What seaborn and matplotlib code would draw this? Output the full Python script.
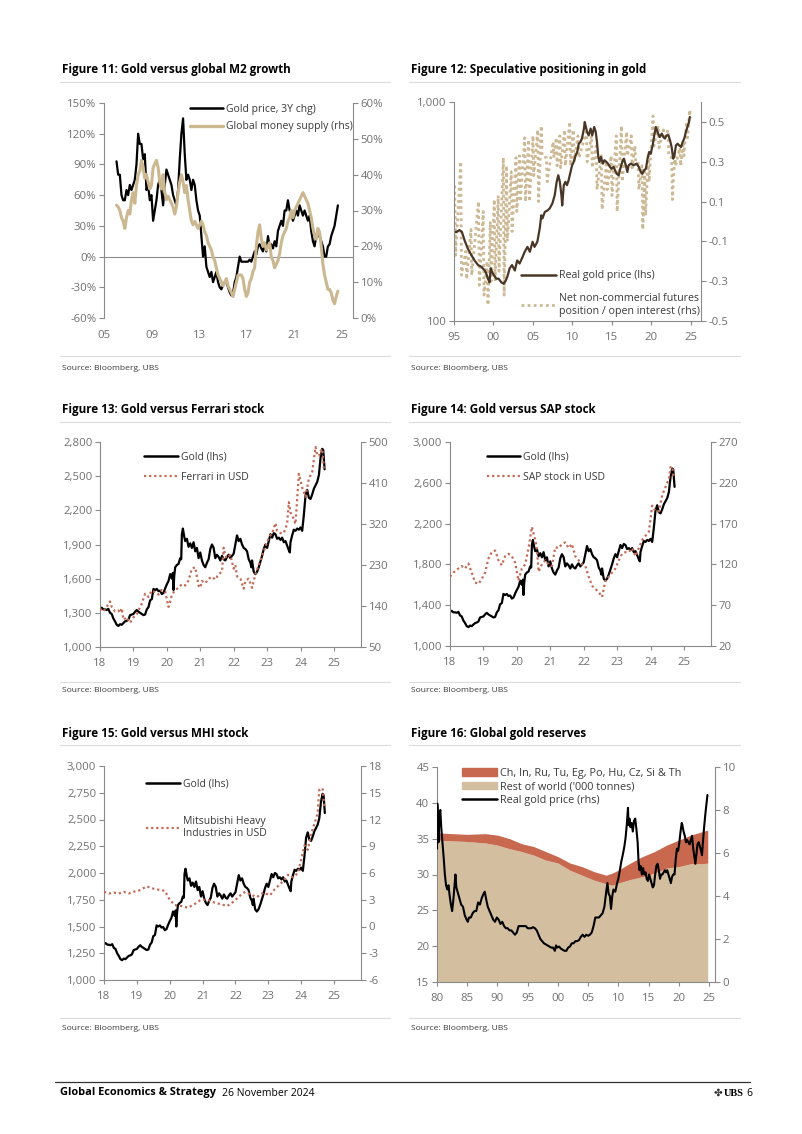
import numpy as np
import matplotlib
matplotlib.use("Agg")
import matplotlib.pyplot as plt
from matplotlib.lines import Line2D
from matplotlib.patches import Patch
import seaborn as sns

# ============================================================
# Data
# ============================================================

# --- Figure 11: gold 3Y change vs global money supply (same monthly-ish grid)
gold_3y_chg = [93, 80, 80, 60, 55, 55, 65, 60, 70, 65, 70, 75, 90, 120, 110, 110, 95, 100, 65, 70,
               55, 60, 35, 45, 55, 70, 75, 65, 50, 70, 85, 80, 75, 70, 60, 55, 50, 65, 95, 120,
               135, 100, 75, 80, 75, 65, 75, 70, 55, 45, 40, 20, 0, 10, -10, -15, -20, -15, -25, -20,
               -15, -25, -30, -32, -28, -25, -25, -30, -35, -38, -36, -25, -20, -10, 0, -5, -5, -5, -5, -5,
               -3, -5, 0, 5, 2, 10, 12, 8, 5, 12, 5, 20, 10, 12, 8, 15, 10, 25, 30, 35,
               30, 45, 45, 55, 45, 45, 35, 40, 45, 40, 50, 45, 40, 45, 40, 35, 40, 25, 15, 10,
               20, 20, 20, 15, 10, 0, 0, 10, 12, 20, 25, 30, 40, 50]
money_supply = [31.5, 31, 30, 28, 27, 25, 28, 30, 29, 33, 35, 32, 37, 40, 41, 44, 42, 39, 40, 38,
                36, 37, 42, 43, 44, 42, 38, 36, 40, 35, 33, 34, 33, 32, 31, 29, 31, 35, 38, 40,
                38, 35, 37, 33, 30, 27, 26, 27, 26, 25, 26, 27, 26, 24, 23, 21, 20, 19, 17, 16,
                14, 12, 11, 10, 9, 10, 11, 9, 8, 7, 6, 8, 10, 12, 12, 12, 11, 8, 6, 7,
                10, 11, 13, 14, 20, 24, 26, 22, 20, 21, 19, 20, 21, 17, 16, 14, 15, 16, 18, 21,
                23, 24, 25, 27, 28, 30, 28, 30, 31, 32, 33, 34, 35, 34, 33, 32, 30, 28, 25, 23,
                22, 25, 24, 20, 15, 12, 10, 8, 8, 7, 5, 4, 6, 7.5]
m2_dates = np.linspace(2006.05, 2024.65, len(gold_3y_chg))

# --- Figure 12: real gold price (log) and net speculative positioning
real_gold_years = [1995.0, 1995.3, 1995.7, 1996.0, 1996.35, 1996.75, 1997.2, 1997.6, 1998.05, 1998.45,
                   1998.9, 1999.1, 1999.3, 1999.5, 1999.65, 1999.8, 2000.05, 2000.35, 2000.65, 2001.0,
                   2001.3, 2001.55, 2001.75, 2002.05, 2002.35, 2002.7, 2003.0, 2003.3, 2003.6, 2003.95,
                   2004.3, 2004.6, 2004.95, 2005.2, 2005.55, 2005.85, 2006.05, 2006.2, 2006.5, 2006.85,
                   2007.1, 2007.45, 2007.75, 2008.0, 2008.2, 2008.4, 2008.6, 2008.7, 2008.9, 2009.1,
                   2009.3, 2009.5, 2009.75, 2009.95, 2010.15, 2010.4, 2010.6, 2010.8, 2011.0, 2011.2,
                   2011.45, 2011.55, 2011.7, 2011.85, 2012.05, 2012.3, 2012.5, 2012.75, 2012.95, 2013.1,
                   2013.25, 2013.4, 2013.6, 2013.85, 2014.05, 2014.3, 2014.5, 2014.75, 2014.95, 2015.2,
                   2015.4, 2015.6, 2015.85, 2016.05, 2016.3, 2016.5, 2016.75, 2016.95, 2017.1, 2017.4,
                   2017.75, 2018.1, 2018.4, 2018.65, 2018.85, 2019.05, 2019.3, 2019.5, 2019.7, 2019.9,
                   2020.15, 2020.35, 2020.55, 2020.7, 2020.85, 2021.05, 2021.3, 2021.5, 2021.7, 2021.9,
                   2022.15, 2022.35, 2022.55, 2022.75, 2022.9, 2023.1, 2023.3, 2023.5, 2023.75, 2023.95,
                   2024.15, 2024.35, 2024.55, 2024.75, 2024.85]
real_gold_price = [255, 255, 260, 255, 233, 214, 200, 189, 180, 177,
                   170, 164, 156, 150, 174, 168, 162, 156, 156, 150,
                   148, 153, 159, 174, 180, 170, 189, 183, 193, 207,
                   218, 207, 230, 218, 230, 264, 304, 294, 315, 320,
                   326, 344, 375, 432, 463, 432, 375, 337, 417, 432,
                   417, 438, 479, 514, 532, 570, 591, 645, 657, 681,
                   756, 810, 769, 729, 704, 756, 704, 769, 729, 657,
                   570, 532, 561, 523, 542, 532, 523, 505, 496, 505,
                   487, 470, 463, 496, 532, 551, 514, 479, 514, 523,
                   514, 523, 505, 479, 470, 487, 496, 551, 591, 580,
                   634, 704, 769, 742, 717, 692, 717, 692, 681, 704,
                   704, 668, 623, 551, 570, 634, 645, 634, 623, 657,
                   681, 729, 769, 810, 854]
net_pos_years = [1995.08, 1995.2, 1995.85, 1995.95, 1996.5, 1996.6, 1997.15, 1997.25, 1998.1, 1998.2,
                 1998.7, 1998.8, 1999.2, 1999.3, 1999.6, 1999.7, 2000.1, 2000.2, 2000.6, 2000.7,
                 2001.25, 2001.35, 2001.65, 2001.75, 2002.25, 2002.35, 2002.85, 2002.95, 2003.3, 2003.4,
                 2003.95, 2004.05, 2004.45, 2004.55, 2005.0, 2005.1, 2005.6, 2005.7, 2006.05, 2006.15,
                 2006.7, 2006.8, 2007.55, 2007.65, 2007.95, 2008.05, 2008.4, 2008.5, 2009.0, 2009.1,
                 2009.65, 2009.75, 2010.1, 2010.2, 2010.7, 2010.8, 2011.75, 2011.85, 2012.4, 2012.5,
                 2013.0, 2013.1, 2013.65, 2013.75, 2014.3, 2014.4, 2014.9, 2015.0, 2015.55, 2015.65,
                 2016.2, 2016.3, 2016.85, 2016.95, 2017.45, 2017.55, 2017.9, 2018.0, 2018.3, 2018.4,
                 2018.8, 2018.9, 2019.15, 2019.25, 2019.6, 2019.7, 2020.2, 2020.3, 2020.85, 2020.95,
                 2021.5, 2021.6, 2022.1, 2022.2, 2022.55, 2022.65, 2022.95, 2023.05, 2023.6, 2023.7,
                 2024.0, 2024.1, 2024.45, 2024.55, 2024.85, 2024.95]
net_pos = [0.18, -0.17, 0.30, -0.27, -0.15, -0.29, -0.04, -0.27, 0.10, -0.32,
           0.05, -0.37, -0.20, -0.42, 0.00, -0.30, 0.11, -0.30, 0.13, -0.25,
           0.32, -0.37, 0.28, -0.10, 0.25, -0.05, 0.32, 0.05, 0.33, 0.10,
           0.42, 0.10, 0.41, 0.10, 0.43, 0.23, 0.46, 0.10, 0.48, 0.33,
           0.32, 0.20, 0.40, 0.32, 0.42, 0.28, 0.43, 0.27, 0.46, 0.28,
           0.50, 0.28, 0.46, 0.30, 0.43, 0.32, 0.45, 0.30, 0.43, 0.27,
           0.38, 0.16, 0.33, 0.06, 0.30, 0.16, 0.33, 0.13, 0.43, 0.05,
           0.48, 0.20, 0.45, 0.33, 0.43, 0.27, 0.38, 0.30, 0.30, 0.16,
           0.28, -0.04, 0.25, 0.03, 0.33, 0.20, 0.53, 0.38, 0.48, 0.37,
           0.46, 0.41, 0.46, 0.33, 0.32, 0.11, 0.33, 0.28, 0.37, 0.28,
           0.40, 0.33, 0.50, 0.42, 0.56, 0.52]

# --- Figures 13-15: gold price (USD/oz), shared
gold_years = [2018.00, 2018.05, 2018.10, 2018.15, 2018.20, 2018.25, 2018.30, 2018.35, 2018.40, 2018.45,
              2018.50, 2018.55, 2018.60, 2018.65, 2018.70, 2018.75, 2018.80, 2018.85, 2018.90, 2018.95,
              2019.00, 2019.05, 2019.10, 2019.15, 2019.20, 2019.25, 2019.30, 2019.35, 2019.40, 2019.45,
              2019.50, 2019.55, 2019.60, 2019.65, 2019.70, 2019.75, 2019.80, 2019.85, 2019.90, 2019.95,
              2020.00, 2020.05, 2020.10, 2020.15, 2020.18, 2020.20, 2020.22, 2020.25, 2020.30, 2020.35,
              2020.40, 2020.43, 2020.45, 2020.48, 2020.52, 2020.55, 2020.60, 2020.65, 2020.70, 2020.75,
              2020.80, 2020.85, 2020.90, 2020.95, 2021.00, 2021.05, 2021.10, 2021.15, 2021.20, 2021.25,
              2021.30, 2021.35, 2021.40, 2021.45, 2021.50, 2021.55, 2021.60, 2021.65, 2021.70, 2021.75,
              2021.80, 2021.85, 2021.90, 2021.95, 2022.00, 2022.05, 2022.10, 2022.15, 2022.20, 2022.25,
              2022.30, 2022.35, 2022.40, 2022.45, 2022.50, 2022.53, 2022.55, 2022.60, 2022.65, 2022.70,
              2022.75, 2022.80, 2022.85, 2022.90, 2022.95, 2023.00, 2023.05, 2023.10, 2023.15, 2023.20,
              2023.25, 2023.30, 2023.35, 2023.40, 2023.45, 2023.50, 2023.55, 2023.60, 2023.65, 2023.68,
              2023.70, 2023.75, 2023.80, 2023.85, 2023.90, 2023.95, 2024.00, 2024.05, 2024.10, 2024.15,
              2024.20, 2024.25, 2024.30, 2024.35, 2024.40, 2024.45, 2024.50, 2024.55, 2024.60, 2024.65,
              2024.68, 2024.70, 2024.72]
gold_usd = [1335, 1345, 1330, 1330, 1325, 1335, 1300, 1290, 1250, 1225,
            1195, 1185, 1200, 1195, 1210, 1225, 1230, 1240, 1280, 1285,
            1290, 1310, 1325, 1310, 1300, 1290, 1280, 1285, 1330, 1350,
            1410, 1420, 1510, 1500, 1510, 1490, 1495, 1465, 1475, 1515,
            1550, 1580, 1640, 1600, 1650, 1500, 1620, 1700, 1720, 1730,
            1780, 1770, 1990, 2040, 1970, 1930, 1950, 1880, 1910, 1870,
            1920, 1840, 1870, 1780, 1830, 1760, 1720, 1700, 1740, 1770,
            1860, 1900, 1870, 1780, 1810, 1790, 1760, 1800, 1770, 1760,
            1790, 1810, 1780, 1800, 1820, 1900, 1980, 1930, 1950, 1900,
            1870, 1860, 1840, 1770, 1740, 1700, 1760, 1660, 1640, 1660,
            1700, 1750, 1800, 1860, 1900, 1870, 1930, 1990, 1960, 2000,
            1990, 1950, 1960, 1940, 1960, 1920, 1930, 1890, 1850, 1830,
            1920, 1980, 2030, 2020, 2040, 2030, 2050, 2020, 2160, 2330,
            2380, 2310, 2300, 2340, 2390, 2420, 2450, 2510, 2660, 2740,
            2730, 2650, 2560]

ferrari_years = [2018.0, 2018.1, 2018.2, 2018.3, 2018.35, 2018.45, 2018.55, 2018.6, 2018.65, 2018.7,
                 2018.8, 2018.9, 2019.0, 2019.1, 2019.15, 2019.25, 2019.35, 2019.45, 2019.55, 2019.65,
                 2019.75, 2019.85, 2019.95, 2020.0, 2020.05, 2020.1, 2020.15, 2020.25, 2020.35, 2020.45,
                 2020.55, 2020.65, 2020.75, 2020.85, 2020.9, 2020.95, 2021.0, 2021.05, 2021.15, 2021.25,
                 2021.35, 2021.45, 2021.55, 2021.65, 2021.7, 2021.75, 2021.8, 2021.9, 2022.0, 2022.05,
                 2022.1, 2022.2, 2022.3, 2022.35, 2022.45, 2022.55, 2022.65, 2022.75, 2022.85, 2022.95,
                 2023.05, 2023.15, 2023.25, 2023.3, 2023.4, 2023.5, 2023.6, 2023.65, 2023.7, 2023.75,
                 2023.85, 2023.95, 2024.0, 2024.05, 2024.15, 2024.25, 2024.35, 2024.45, 2024.5, 2024.55,
                 2024.6, 2024.65, 2024.7]
ferrari_usd = [134, 128, 138, 150, 138, 128, 130, 125, 135, 110,
               115, 103, 115, 122, 130, 145, 167, 160, 174, 170,
               165, 175, 172, 155, 138, 150, 165, 175, 180, 188,
               185, 196, 222, 225, 205, 185, 180, 195, 190, 200,
               204, 198, 210, 215, 268, 250, 245, 252, 222, 230,
               205, 200, 178, 195, 200, 180, 210, 230, 250, 270,
               290, 300, 322, 305, 300, 300, 320, 368, 345, 340,
               320, 430, 415, 400, 380, 420, 434, 489, 470, 470,
               480, 485, 440]

sap_years = [2018.0, 2018.1, 2018.25, 2018.35, 2018.45, 2018.55, 2018.65, 2018.75, 2018.85, 2018.95,
             2019.05, 2019.15, 2019.25, 2019.35, 2019.45, 2019.55, 2019.65, 2019.75, 2019.85, 2019.95,
             2020.05, 2020.15, 2020.25, 2020.35, 2020.45, 2020.55, 2020.6, 2020.65, 2020.75, 2020.85,
             2020.95, 2021.05, 2021.15, 2021.25, 2021.35, 2021.45, 2021.55, 2021.65, 2021.75, 2021.85,
             2021.95, 2022.05, 2022.15, 2022.25, 2022.35, 2022.45, 2022.55, 2022.65, 2022.75, 2022.85,
             2022.95, 2023.05, 2023.15, 2023.25, 2023.35, 2023.45, 2023.55, 2023.65, 2023.75, 2023.85,
             2023.95, 2024.05, 2024.15, 2024.25, 2024.35, 2024.45, 2024.55, 2024.6, 2024.65, 2024.7]
sap_usd = [105, 110, 115, 118, 115, 121, 110, 98, 96, 102,
           110, 127, 135, 137, 125, 119, 130, 133, 130, 122,
           100, 115, 120, 140, 166, 150, 140, 111, 120, 125,
           120, 118, 141, 140, 145, 147, 140, 145, 130, 125,
           120, 118, 105, 94, 90, 86, 80, 100, 105, 110,
           115, 125, 133, 135, 135, 140, 130, 140, 150, 155,
           160, 192, 185, 185, 205, 215, 225, 239, 240, 225]

mhi_years = [2018.0, 2018.15, 2018.3, 2018.45, 2018.6, 2018.75, 2018.9, 2019.05, 2019.2, 2019.3,
             2019.45, 2019.55, 2019.7, 2019.85, 2020.0, 2020.15, 2020.35, 2020.55, 2020.75, 2020.95,
             2021.15, 2021.35, 2021.55, 2021.75, 2021.95, 2022.15, 2022.3, 2022.45, 2022.65, 2022.85,
             2023.05, 2023.2, 2023.4, 2023.6, 2023.75, 2023.9, 2024.0, 2024.1, 2024.2, 2024.3,
             2024.4, 2024.5, 2024.55, 2024.65, 2024.7]
mhi_usd = [3.9, 3.7, 3.8, 3.7, 3.9, 3.7, 3.9, 4.0, 4.3, 4.5,
           4.3, 4.2, 4.1, 4.0, 3.0, 2.4, 2.3, 2.1, 2.5, 3.0,
           3.0, 2.7, 2.5, 2.3, 2.8, 3.5, 3.9, 3.6, 3.3, 3.8,
           3.5, 4.2, 4.9, 5.8, 5.5, 6.0, 7.5, 9.1, 8.6, 10.3,
           11.5, 12.7, 15.3, 15.5, 13.5]

# --- Figure 16: global gold reserves ('000 tonnes) and real gold price
reserve_years = [1980, 1985, 1988, 1990, 1992, 1994, 1996, 1998, 2000, 2002,
                 2004, 2006, 2008, 2009, 2010, 2012, 2014, 2016, 2018, 2020,
                 2022, 2024, 2024.8]
reserves_total = [35.8, 35.6, 35.7, 35.5, 35.0, 34.3, 33.9, 33.2, 32.5, 31.6,
                  31.1, 30.4, 29.9, 30.2, 30.6, 31.6, 32.5, 33.2, 34.1, 34.8,
                  35.5, 36.0, 36.2]
reserves_rest = [34.8, 34.6, 34.4, 34.1, 33.6, 33.2, 32.7, 32.0, 31.6, 30.6,
                 29.9, 29.2, 28.7, 28.5, 28.8, 29.3, 29.7, 30.2, 30.9, 31.1,
                 31.5, 31.5, 31.6]
rg_years = [1980.0, 1980.05, 1980.15, 1980.25, 1980.4, 1980.55, 1980.7, 1980.9, 1981.1, 1981.3,
            1981.5, 1981.7, 1981.9, 1982.1, 1982.3, 1982.5, 1982.7, 1982.9, 1983.05, 1983.2,
            1983.4, 1983.6, 1983.8, 1984.0, 1984.3, 1984.6, 1984.9, 1985.1, 1985.3, 1985.6,
            1985.9, 1986.2, 1986.5, 1986.8, 1987.1, 1987.4, 1987.7, 1987.9, 1988.1, 1988.4,
            1988.7, 1989.0, 1989.3, 1989.6, 1989.9, 1990.2, 1990.5, 1990.8, 1991.1, 1991.4,
            1991.7, 1992.0, 1992.3, 1992.6, 1992.9, 1993.2, 1993.5, 1993.8, 1994.1, 1994.4,
            1994.7, 1995.0, 1995.3, 1995.6, 1995.9, 1996.2, 1996.5, 1996.8, 1997.1, 1997.4,
            1997.7, 1998.0, 1998.3, 1998.6, 1998.9, 1999.2, 1999.5, 1999.7, 1999.9, 2000.2,
            2000.5, 2000.8, 2001.1, 2001.4, 2001.7, 2002.0, 2002.3, 2002.6, 2002.9, 2003.2,
            2003.5, 2003.8, 2004.1, 2004.4, 2004.7, 2005.0, 2005.3, 2005.6, 2005.9, 2006.2,
            2006.5, 2006.8, 2007.1, 2007.4, 2007.7, 2008.0, 2008.2, 2008.4, 2008.6, 2008.8,
            2009.0, 2009.2, 2009.5, 2009.8, 2010.0, 2010.2, 2010.5, 2010.8, 2011.0, 2011.2,
            2011.4, 2011.6, 2011.7, 2011.85, 2012.0, 2012.2, 2012.4, 2012.6, 2012.8, 2013.0,
            2013.2, 2013.35, 2013.5, 2013.7, 2013.9, 2014.1, 2014.3, 2014.5, 2014.7, 2014.9,
            2015.1, 2015.3, 2015.5, 2015.7, 2015.9, 2016.1, 2016.3, 2016.5, 2016.7, 2016.9,
            2017.1, 2017.3, 2017.5, 2017.7, 2017.9, 2018.1, 2018.3, 2018.5, 2018.7, 2018.9,
            2019.1, 2019.3, 2019.5, 2019.7, 2019.9, 2020.1, 2020.3, 2020.5, 2020.6, 2020.8,
            2021.0, 2021.2, 2021.4, 2021.6, 2021.8, 2022.0, 2022.2, 2022.4, 2022.6, 2022.75,
            2022.9, 2023.1, 2023.3, 2023.5, 2023.7, 2023.85, 2024.0, 2024.2, 2024.4, 2024.6,
            2024.75]
rg_price = [6.2, 8.3, 7.6, 6.5, 7.8, 8.0, 7.2, 6.5, 5.8, 5.0,
            4.5, 4.3, 4.5, 4.0, 3.6, 3.3, 3.8, 4.5, 5.0, 4.4,
            4.2, 4.0, 3.8, 3.6, 3.5, 3.1, 2.9, 2.8, 3.0, 3.0,
            3.2, 3.3, 3.3, 3.7, 3.6, 3.9, 4.1, 4.2, 3.9, 3.5,
            3.3, 3.1, 2.9, 2.8, 3.0, 2.9, 2.7, 2.8, 2.6, 2.5,
            2.5, 2.4, 2.4, 2.3, 2.2, 2.3, 2.6, 2.6, 2.6, 2.6,
            2.6, 2.5, 2.5, 2.5, 2.55, 2.5, 2.4, 2.2, 2.0, 1.9,
            1.8, 1.75, 1.7, 1.65, 1.6, 1.6, 1.45, 1.7, 1.6, 1.65,
            1.55, 1.5, 1.45, 1.45, 1.6, 1.65, 1.8, 1.8, 1.9, 1.9,
            1.95, 2.1, 2.2, 2.1, 2.2, 2.15, 2.2, 2.3, 2.6, 3.0,
            3.0, 3.0, 3.1, 3.2, 3.5, 4.2, 4.6, 4.1, 4.0, 3.4,
            4.0, 4.3, 4.2, 4.6, 4.8, 5.1, 5.6, 6.0, 6.3, 6.7,
            7.3, 8.1, 7.3, 7.6, 7.2, 7.4, 7.0, 7.5, 7.6, 7.1,
            6.5, 5.6, 5.2, 5.4, 5.0, 5.3, 5.0, 5.1, 4.8, 4.7,
            5.0, 4.8, 4.6, 4.4, 4.5, 5.0, 5.4, 5.5, 5.2, 4.8,
            5.0, 5.0, 5.1, 5.2, 5.1, 5.2, 5.0, 4.8, 4.6, 4.9,
            5.0, 5.0, 5.7, 6.2, 6.1, 6.5, 7.0, 7.4, 7.3, 7.0,
            6.8, 6.5, 6.6, 6.5, 6.4, 6.6, 6.8, 6.2, 5.8, 5.5,
            5.9, 6.4, 6.5, 6.3, 6.1, 5.9, 6.5, 7.2, 7.8, 8.3,
            8.7]

# ============================================================
# Styling
# ============================================================
sns.set_style("ticks")
plt.rcParams['font.family'] = ['Open Sans', 'DejaVu Sans']

W, H = 802, 1134
TICK_GREY = '#707070'
SPINE_GREY = '#8a8a8a'
TEXT_DARK = '#3a3a3a'
TAN_LINE = '#cbb790'
BROWN_LINE = '#4a3626'
TAN_DOT = '#cdb894'
RED_DOT = '#c46a55'
FILL_RED = '#c8694f'
FILL_TAN = '#d3bf9f'

fig = plt.figure(figsize=(W / 100, H / 100), dpi=100)
fig.patch.set_facecolor('white')


def px_axes(l, t, r, b):
    return fig.add_axes([l / W, 1 - b / H, (r - l) / W, (b - t) / H])


def hline(x0, x1, y, color='#dcdcdc', lw=0.8):
    fig.add_artist(Line2D([x0 / W, x1 / W], [1 - y / H] * 2, color=color, lw=lw))


def style_pair(ax, ax2, bottom=True):
    for a in (ax, ax2):
        a.spines['top'].set_visible(False)
        for s in a.spines.values():
            s.set_color(SPINE_GREY)
            s.set_linewidth(0.8)
        a.set_xlabel('')
        a.set_ylabel('')
    ax.spines['right'].set_visible(False)
    ax2.spines['left'].set_visible(False)
    ax2.spines['bottom'].set_visible(False)
    ax.spines['bottom'].set_visible(bottom)
    for a in (ax, ax2):
        a.tick_params(axis='y', direction='out', length=3.5, width=0.8, color=SPINE_GREY,
                      labelcolor=TICK_GREY, labelsize=8.2, pad=2)
    ax.tick_params(axis='x', direction='out', length=3 if bottom else 0, width=0.8,
                   color=SPINE_GREY, labelcolor=TICK_GREY, labelsize=8.2,
                   pad=5 if bottom else 9)
    ax.minorticks_off()
    ax2.minorticks_off()


def panel_frame(x0, x1, title, y_title, y_sep, y_src_sep, y_src):
    fig.text(x0 / W, 1 - y_title / H, title, fontsize=8.4, fontweight='bold',
             color='black', va='center', ha='left')
    hline(x0 - 2, x1, y_sep)
    hline(x0 - 2, x1, y_src_sep)
    fig.text(x0 / W, 1 - y_src / H, 'Source: Bloomberg, UBS', fontsize=6.1,
             color=TEXT_DARK, va='center', ha='left')


def year_ticks(ax, years):
    ax.set_xticks(years)
    ax.set_xticklabels([f"{y % 100:02d}" for y in years])


def legend(ax, handles, labels, anchor, loc='upper left', spacing=0.45, fontsize=7.5):
    lg = ax.legend(handles, labels, loc=loc, bbox_to_anchor=anchor, frameon=False,
                   fontsize=fontsize, handlelength=3.2, handletextpad=0.3,
                   labelspacing=spacing, borderaxespad=0, borderpad=0)
    for t in lg.get_texts():
        t.set_color(TEXT_DARK)
    return lg


# ============================================================
# Figure 11
# ============================================================
panel_frame(62, 390, 'Figure 11: Gold versus global M2 growth', 70, 82, 356, 368)
ax = px_axes(104, 103, 353, 318)
ax2 = ax.twinx()
sns.lineplot(x=m2_dates, y=gold_3y_chg, ax=ax, color='black', linewidth=1.6,
             estimator=None, legend=False)
sns.lineplot(x=m2_dates, y=money_supply, ax=ax2, color=TAN_LINE, linewidth=2.2,
             estimator=None, legend=False)
ax.axhline(0, color=SPINE_GREY, lw=0.8, zorder=0)
ax.set_xlim(2005, 2025.92)
ax.set_ylim(-60, 150)
ax2.set_ylim(0, 60)
ax.set_yticks(range(-60, 151, 30))
ax.set_yticklabels([f"{v}%" for v in range(-60, 151, 30)])
ax2.set_yticks(range(0, 61, 10))
ax2.set_yticklabels([f"{v}%" for v in range(0, 61, 10)])
year_ticks(ax, [2005, 2009, 2013, 2017, 2021, 2025])
style_pair(ax, ax2, bottom=False)
legend(ax2, [Line2D([], [], color='black', lw=1.8), Line2D([], [], color=TAN_LINE, lw=2.4)],
       ['Gold price, 3Y chg)', 'Global money supply (rhs)'], (0.345, 0.995), spacing=0.6)

# ============================================================
# Figure 12
# ============================================================
panel_frame(411, 740, 'Figure 12: Speculative positioning in gold', 70, 82, 356, 368)
ax = px_axes(454, 102, 701, 321)
ax2 = ax.twinx()
sns.lineplot(x=real_gold_years, y=real_gold_price, ax=ax, color=BROWN_LINE, linewidth=1.6,
             estimator=None, legend=False)
sns.lineplot(x=net_pos_years, y=net_pos, ax=ax2, color=TAN_DOT, linewidth=2.0,
             linestyle=(0, (1, 1.2)), estimator=None, legend=False)
ax.set_yscale('log')
ax.set_xlim(1995, 2026.27)
ax.set_ylim(100, 1000)
ax2.set_ylim(-0.5, 0.6)
ax.set_yticks([100, 1000])
ax.set_yticklabels(['100', '1,000'])
ax2.set_yticks([-0.5, -0.3, -0.1, 0.1, 0.3, 0.5])
ax2.set_yticklabels(['-0.5', '-0.3', '-0.1', '0.1', '0.3', '0.5'])
year_ticks(ax, [1995, 2000, 2005, 2010, 2015, 2020, 2025])
style_pair(ax, ax2)
ax.set_zorder(ax2.get_zorder() + 1)
ax.patch.set_visible(False)
legend(ax, [Line2D([], [], color=BROWN_LINE, lw=1.8),
            Line2D([], [], color=TAN_DOT, lw=2.0, linestyle=(0, (1, 1.2)))],
       ['Real gold price (lhs)', 'Net non-commercial futures\nposition / open interest (rhs)'],
       (0.995, 0.02), loc='lower right', spacing=1.1, fontsize=7.7)

# ============================================================
# Figure 13
# ============================================================
panel_frame(62, 390, 'Figure 13: Gold versus Ferrari stock', 410, 422, 682, 691)
ax = px_axes(100, 442, 361, 647)
ax2 = ax.twinx()
sns.lineplot(x=gold_years, y=gold_usd, ax=ax, color='black', linewidth=1.6,
             estimator=None, legend=False)
sns.lineplot(x=ferrari_years, y=ferrari_usd, ax=ax2, color=RED_DOT, linewidth=1.6,
             linestyle=(0, (1, 1.3)), estimator=None, legend=False)
ax.set_xlim(2018, 2025.81)
ax.set_ylim(1000, 2800)
ax2.set_ylim(50, 500)
ax.set_yticks(range(1000, 2801, 300))
ax.set_yticklabels([f"{v:,}" for v in range(1000, 2801, 300)])
ax2.set_yticks(range(50, 501, 90))
year_ticks(ax, list(range(2018, 2026)))
style_pair(ax, ax2)
legend(ax2, [Line2D([], [], color='black', lw=1.8),
             Line2D([], [], color=RED_DOT, lw=1.6, linestyle=(0, (1, 1.3)))],
       ['Gold (lhs)', 'Ferrari in USD'], (0.17, 0.955), spacing=0.95)

# ============================================================
# Figure 14
# ============================================================
panel_frame(411, 740, 'Figure 14: Gold versus SAP stock', 410, 422, 682, 691)
ax = px_axes(450, 442, 711, 646)
ax2 = ax.twinx()
sns.lineplot(x=gold_years, y=gold_usd, ax=ax, color='black', linewidth=1.6,
             estimator=None, legend=False)
sns.lineplot(x=sap_years, y=sap_usd, ax=ax2, color=RED_DOT, linewidth=1.6,
             linestyle=(0, (1, 1.3)), estimator=None, legend=False)
ax.set_xlim(2018, 2025.81)
ax.set_ylim(1000, 3000)
ax2.set_ylim(20, 270)
ax.set_yticks(range(1000, 3001, 400))
ax.set_yticklabels([f"{v:,}" for v in range(1000, 3001, 400)])
ax2.set_yticks(range(20, 271, 50))
year_ticks(ax, list(range(2018, 2026)))
style_pair(ax, ax2)
legend(ax2, [Line2D([], [], color='black', lw=1.8),
             Line2D([], [], color=RED_DOT, lw=1.6, linestyle=(0, (1, 1.3)))],
       ['Gold (lhs)', 'SAP stock in USD'], (0.14, 0.955), spacing=0.95)

# ============================================================
# Figure 15
# ============================================================
panel_frame(62, 390, 'Figure 15: Gold versus MHI stock', 734, 745, 1018, 1029)
ax = px_axes(104, 766, 361, 980)
ax2 = ax.twinx()
sns.lineplot(x=gold_years, y=gold_usd, ax=ax, color='black', linewidth=1.6,
             estimator=None, legend=False)
sns.lineplot(x=mhi_years, y=mhi_usd, ax=ax2, color=RED_DOT, linewidth=1.6,
             linestyle=(0, (1, 1.3)), estimator=None, legend=False)
ax.set_xlim(2018, 2025.82)
ax.set_ylim(1000, 3000)
ax2.set_ylim(-6, 18)
ax.set_yticks(range(1000, 3001, 250))
ax.set_yticklabels([f"{v:,}" for v in range(1000, 3001, 250)])
ax2.set_yticks(range(-6, 19, 3))
ax2.set_yticklabels([str(v) for v in range(-6, 19, 3)])
year_ticks(ax, list(range(2018, 2026)))
style_pair(ax, ax2)
legend(ax2, [Line2D([], [], color='black', lw=1.8),
             Line2D([], [], color=RED_DOT, lw=1.6, linestyle=(0, (1, 1.3)))],
       ['Gold (lhs)', 'Mitsubishi Heavy\nIndustries in USD'], (0.165, 0.94), spacing=2.5)

# ============================================================
# Figure 16
# ============================================================
panel_frame(411, 740, 'Figure 16: Global gold reserves', 734, 745, 1018, 1029)
ax = px_axes(437, 767, 715, 982)
ax2 = ax.twinx()
ax.fill_between(reserve_years, 15, reserves_rest, color=FILL_TAN, lw=0)
ax.fill_between(reserve_years, reserves_rest, reserves_total, color=FILL_RED, lw=0)
sns.lineplot(x=rg_years, y=rg_price, ax=ax2, color='black', linewidth=1.5,
             estimator=None, legend=False)
ax.set_xlim(1980, 2026.0)
ax.set_ylim(15, 45)
ax2.set_ylim(0, 10)
ax.set_yticks(range(15, 46, 5))
ax2.set_yticks(range(0, 11, 2))
year_ticks(ax, list(range(1980, 2026, 5)))
style_pair(ax, ax2)
legend(ax2, [Patch(color=FILL_RED), Patch(color=FILL_TAN), Line2D([], [], color='black', lw=1.8)],
       ["Ch, In, Ru, Tu, Eg, Po, Hu, Cz, Si & Th", "Rest of world ('000 tonnes)",
        'Real gold price (rhs)'], (0.09, 0.995), spacing=0.22, fontsize=7.8)

# ============================================================
# Page footer
# ============================================================
hline(55, 750, 1082, color='#333333', lw=0.9)
fig.text(60 / W, 1 - 1093 / H, 'Global Economics & Strategy', fontsize=7.9,
         fontweight='bold', color='black', va='center', ha='left')
fig.text(222 / W, 1 - 1093 / H, '26 November 2024', fontsize=7.5,
         color='black', va='center', ha='left')
fig.text(722 / W, 1 - 1093 / H, '\u2724', fontsize=7.5, color='#333333',
         va='center', ha='right', family='DejaVu Sans')
fig.text(724 / W, 1 - 1093 / H, 'UBS', fontsize=7.5, fontweight='bold', color='black',
         va='center', ha='left', family=['Liberation Serif', 'DejaVu Serif'])
fig.text(752 / W, 1 - 1093 / H, '6', fontsize=7.5, color='black', va='center', ha='right')

fig.savefig('out.png', dpi=100, facecolor='white')
